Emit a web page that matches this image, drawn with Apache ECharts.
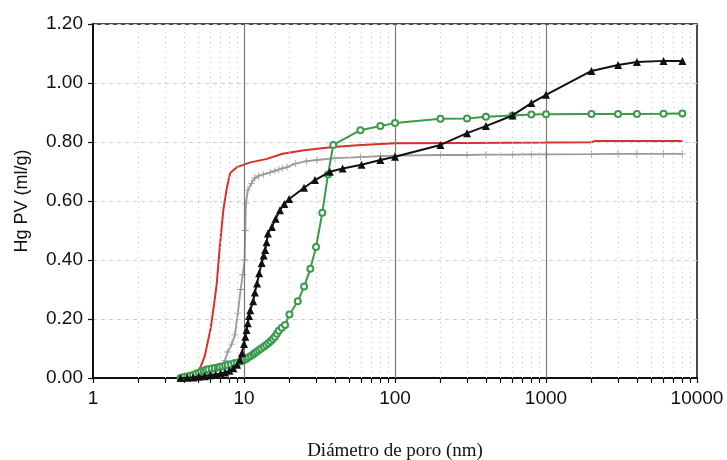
<!DOCTYPE html>
<html lang="es">
<head>
    <meta charset="UTF-8">
    <title>Hg PV</title>
    <script src="https://cdn.jsdelivr.net/npm/echarts@6/dist/echarts.min.js"></script>
    <style>
        body { margin: 0; background: #fff; }
        #main { width: 727px; height: 460px; }
    </style>
</head>
<body>
<div id="main"></div>
<script>
    // datos: [diametro (nm), Hg PV (ml/g)]
    var redData = [[4.0, 0], [4.4, 0.003], [5.0, 0.02], [5.5, 0.075], [6.0, 0.165], [6.3, 0.24], [6.6, 0.32],
        [6.9, 0.44], [7.3, 0.57], [7.7, 0.645], [8.1, 0.695], [9, 0.715], [11, 0.731], [14, 0.742], [18, 0.760],
        [25, 0.772], [39, 0.783], [60, 0.790], [100, 0.796], [300, 0.797], [1000, 0.798], [2000, 0.799],
        [2100, 0.803], [8000, 0.803]];

    var grayData = [[3.8, 0], [4.5, 0.002], [5, 0.005], [6, 0.015], [7, 0.04], [7.5, 0.06], [7.8, 0.088], [8.3, 0.115],
        [8.7, 0.146], [9.1, 0.22], [9.5, 0.30], [9.8, 0.35], [10.1, 0.40], [10.2, 0.50], [10.3, 0.593], [10.6, 0.637],
        [11.2, 0.660], [11.8, 0.678], [12.5, 0.685], [13.5, 0.690], [14.9, 0.697], [16, 0.702], [17, 0.707],
        [18, 0.711], [19.3, 0.715], [22, 0.727], [26, 0.735], [30.5, 0.739], [40, 0.745], [59, 0.749], [80, 0.752],
        [100, 0.754], [200, 0.756], [300, 0.756], [400, 0.757], [600, 0.757], [800, 0.758], [1000, 0.758],
        [2000, 0.759], [3000, 0.760], [4000, 0.760], [6000, 0.760], [8000, 0.760]];

    var greenData = [[3.8, 0], [4.0, 0.003], [4.2, 0.005], [4.4, 0.008], [4.6, 0.01], [4.8, 0.014], [5.0, 0.018],
        [5.2, 0.022], [5.4, 0.025], [5.6, 0.028], [5.8, 0.03], [6.1, 0.032], [6.4, 0.034], [6.7, 0.036], [6.9, 0.037],
        [7.2, 0.039], [7.5, 0.042], [7.8, 0.044], [8.2, 0.047], [8.6, 0.05], [9, 0.052], [9.5, 0.056], [10, 0.06],
        [10.4, 0.065], [10.7, 0.07], [11.1, 0.075], [11.5, 0.08], [11.8, 0.085], [12.2, 0.09], [12.6, 0.095],
        [13, 0.10], [13.5, 0.106], [14, 0.112], [14.5, 0.118], [15, 0.125], [15.5, 0.132], [16, 0.14], [16.5, 0.15],
        [17, 0.16], [17.8, 0.17], [18.7, 0.18], [20, 0.215], [22.7, 0.26], [25, 0.31], [27.5, 0.37], [30, 0.444],
        [33, 0.56], [36, 0.69], [39, 0.79], [59, 0.84], [80, 0.854], [100, 0.864], [200, 0.879], [300, 0.880],
        [400, 0.886], [600, 0.890], [800, 0.893], [1000, 0.894], [2000, 0.895], [3000, 0.895], [4000, 0.895],
        [6000, 0.896], [8000, 0.897]];

    var blackData = [[3.8, 0], [4.2, 0.001], [4.6, 0.002], [5, 0.004], [5.5, 0.006], [6, 0.009], [6.5, 0.012],
        [7, 0.015], [7.5, 0.019], [8, 0.025], [8.5, 0.033], [9, 0.045], [9.4, 0.062], [9.7, 0.085], [10, 0.115],
        [10.2, 0.14], [10.4, 0.163], [10.6, 0.186], [10.8, 0.21], [11, 0.23], [11.5, 0.26], [11.8, 0.29],
        [12.2, 0.32], [12.6, 0.355], [13.1, 0.39], [13.5, 0.415], [13.8, 0.434], [14.1, 0.46], [14.4, 0.49],
        [15.3, 0.512], [16.2, 0.54], [17.3, 0.569], [18.5, 0.59], [19.9, 0.607], [25, 0.645], [29.5, 0.671],
        [37, 0.699], [45, 0.71], [60, 0.723], [80, 0.739], [100, 0.75], [200, 0.79], [300, 0.83], [400, 0.854],
        [600, 0.89], [800, 0.932], [1000, 0.96], [2000, 1.041], [3000, 1.061], [4000, 1.071], [6000, 1.075],
        [8000, 1.075]];

    var xTicks = [1, 10, 100, 1000, 10000];
    var yMin = 0, yMax = 1.2, yStep = 0.2;

    // lineas menores (2..9 de cada decada) y ticks
    var minorX = [];
    var allTicks = [];
    for (var d = 1; d < 10000; d *= 10) {
        allTicks.push(d);
        for (var k = 2; k <= 9; k++) {
            minorX.push(d * k);
            allTicks.push(d * k);
        }
    }
    allTicks.push(10000);

    var plusSymbol = 'path://M4.4 0H5.6V4.4H10V5.6H5.6V10H4.4V5.6H0V4.4H4.4Z';
    var sansFont = '"Liberation Sans", Arial, sans-serif';

    var myChart = echarts.init(document.getElementById('main'));
    var option = {
        animation: false,
        grid: {
            left: 93, right: 30, top: 24, bottom: 82,
            outerBoundsMode: 'none',
            containLabel: false,
            show: true, borderColor: '#111', borderWidth: 1.5, backgroundColor: 'transparent'
        },
        xAxis: {
            type: 'log',
            logBase: 10,
            min: 1,
            max: 10000,
            axisLine: { lineStyle: { color: '#111', width: 2 } },
            axisTick: { show: true, length: 5, customValues: allTicks, lineStyle: { color: '#111', width: 1.2 } },
            axisLabel: {
                customValues: xTicks,
                formatter: function (v) { return String(Math.round(v)); },
                color: '#111', fontSize: 19, fontFamily: sansFont, margin: 11
            },
            splitLine: { show: false },
            minorTick: { show: false },
            name: 'Diámetro de poro (nm)',
            nameLocation: 'middle',
            nameGap: 64,
            nameMoveOverlap: false,
            nameTextStyle: { color: '#111', fontSize: 19, fontFamily: '"Liberation Serif", "DejaVu Serif", serif' }
        },
        yAxis: {
            type: 'value',
            min: yMin,
            max: yMax,
            interval: yStep,
            axisLine: { show: true, lineStyle: { color: '#111', width: 2 } },
            axisTick: { show: true, length: 5, lineStyle: { color: '#111', width: 1.2 } },
            axisLabel: {
                formatter: function (v) { return v.toFixed(2); },
                color: '#111', fontSize: 19, fontFamily: sansFont, margin: 10
            },
            splitLine: { show: true, lineStyle: { color: '#cfcfcf', type: [4, 4], width: 1 } },
            name: 'Hg PV (ml/g)',
            nameLocation: 'middle',
            nameRotate: 90,
            nameGap: 62,
            nameMoveOverlap: false,
            nameTextStyle: { color: '#111', fontSize: 18, fontFamily: sansFont }
        },
        series: [
            {
                name: 'grid',
                type: 'line',
                data: [],
                silent: true,
                markLine: {
                    silent: true,
                    symbol: 'none',
                    label: { show: false },
                    animation: false,
                    data: minorX.map(function (v) {
                        return { xAxis: v, lineStyle: { color: '#c8c8c8', type: [1, 4], width: 1 } };
                    }).concat([10, 100, 1000].map(function (v) {
                        return { xAxis: v, lineStyle: { color: '#7a7a7a', type: 'solid', width: 1.2 } };
                    }))
                }
            },
            {
                name: 'red',
                type: 'line',
                data: redData,
                showSymbol: false,
                symbol: 'none',
                lineStyle: { color: '#d8312a', width: 2 },
                z: 3
            },
            {
                name: 'gray',
                type: 'line',
                data: grayData,
                symbol: plusSymbol,
                symbolSize: 7,
                itemStyle: { color: '#9a9a9a' },
                lineStyle: { color: '#9a9a9a', width: 1.8 },
                z: 4
            },
            {
                name: 'green',
                type: 'line',
                data: greenData,
                symbol: 'emptyCircle',
                symbolSize: 6,
                itemStyle: { color: '#3c9a4c', borderWidth: 1.2 },
                lineStyle: { color: '#3c9a4c', width: 2 },
                z: 5
            },
            {
                name: 'black',
                type: 'line',
                data: blackData,
                symbol: 'triangle',
                symbolSize: 8,
                itemStyle: { color: '#111' },
                lineStyle: { color: '#111', width: 2 },
                z: 6
            }
        ]
    };
    myChart.setOption(option);
</script>
</body>
</html>
